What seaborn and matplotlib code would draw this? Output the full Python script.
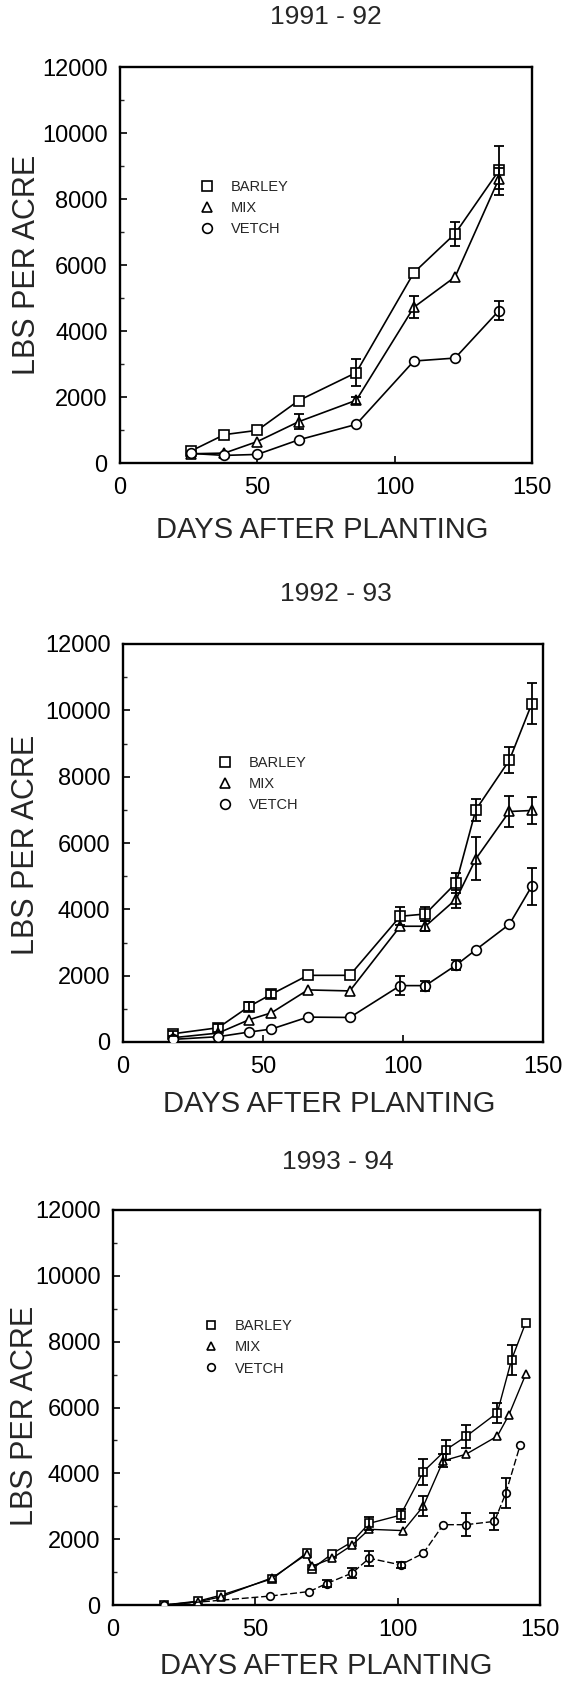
import numpy as np
import pandas as pd
import matplotlib
matplotlib.use("Agg")
import matplotlib.pyplot as plt
from matplotlib.lines import Line2D
from matplotlib.ticker import MultipleLocator
import seaborn as sns

# ---------------- data ----------------
crops = ["BARLEY", "MIX", "VETCH"]
titles = ["1991 - 92", "1992 - 93", "1993 - 94"]
x_ticks = [0, 50, 100, 150]
y_ticks = [0, 2000, 4000, 6000, 8000, 10000, 12000]
x_label = "DAYS AFTER PLANTING"
y_label = "LBS PER ACRE"

# 1991-92
days_91 = [26, 38, 50, 65, 86, 107, 122, 138]
lbs_91_barley = [370, 860, 990, 1890, 2740, 5770, 6950, 8870]
err_91_barley = [0, 0, 0, 0, 400, 0, 360, 750]
lbs_91_mix = [280, 300, 650, 1250, 1900, 4720, 5640, 8620]
err_91_mix = [0, 0, 0, 230, 100, 330, 0, 330]
lbs_91_vetch = [290, 230, 260, 700, 1170, 3090, 3180, 4620]
err_91_vetch = [0, 0, 0, 0, 0, 0, 0, 300]

# 1992-93
days_92 = [18, 34, 45, 53, 66, 81, 99, 108, 119, 126, 138, 146]
lbs_92_barley = [250, 430, 1070, 1440, 2010, 2010, 3790, 3860, 4800, 7000, 8500, 10200]
err_92_barley = [80, 120, 150, 120, 0, 0, 270, 200, 300, 330, 380, 620]
lbs_92_mix = [130, 270, 670, 880, 1570, 1540, 3490, 3490, 4310, 5520, 6950, 6980]
err_92_mix = [0, 0, 0, 0, 0, 0, 0, 150, 280, 650, 470, 400]
lbs_92_vetch = [80, 160, 300, 390, 750, 740, 1700, 1700, 2320, 2780, 3550, 4700]
err_92_vetch = [0, 0, 0, 0, 0, 0, 280, 150, 150, 0, 0, 560]

# 1993-94
days_93_barley = [18, 30, 38, 56, 68, 70, 77, 84, 90, 101, 109, 117, 124, 135, 140, 145]
lbs_93_barley = [0, 120, 300, 800, 1580, 1100, 1560, 1920, 2480, 2730, 4050, 4720, 5120, 5840, 7450, 8580]
err_93_barley = [0, 0, 0, 0, 0, 0, 0, 0, 200, 200, 400, 300, 350, 300, 450, 0]
days_93_mix = [18, 30, 38, 56, 68, 70, 77, 84, 90, 102, 109, 116, 124, 135, 139, 145]
lbs_93_mix = [0, 100, 250, 830, 1540, 1180, 1420, 1820, 2300, 2260, 3000, 4380, 4580, 5130, 5760, 7010]
err_93_mix = [0, 0, 0, 0, 0, 0, 0, 0, 0, 0, 300, 200, 0, 0, 0, 0]
days_93_vetch = [18, 55, 69, 75, 84, 90, 101, 109, 116, 124, 134, 138, 143]
lbs_93_vetch = [0, 270, 410, 650, 970, 1420, 1220, 1570, 2440, 2440, 2540, 3400, 4850]
err_93_vetch = [0, 0, 0, 100, 150, 220, 100, 0, 0, 350, 250, 450, 0]

panels = [
    {"BARLEY": (days_91, lbs_91_barley, err_91_barley),
     "MIX": (days_91, lbs_91_mix, err_91_mix),
     "VETCH": (days_91, lbs_91_vetch, err_91_vetch)},
    {"BARLEY": (days_92, lbs_92_barley, err_92_barley),
     "MIX": (days_92, lbs_92_mix, err_92_mix),
     "VETCH": (days_92, lbs_92_vetch, err_92_vetch)},
    {"BARLEY": (days_93_barley, lbs_93_barley, err_93_barley),
     "MIX": (days_93_mix, lbs_93_mix, err_93_mix),
     "VETCH": (days_93_vetch, lbs_93_vetch, err_93_vetch)},
]

# ---------------- style ----------------
sns.set_style("ticks")
plt.rcParams["font.family"] = ["Liberation Sans", "DejaVu Sans"]

W, H = 567, 1695
fig = plt.figure(figsize=(W / 100, H / 100), dpi=100)

# (left, top, right, bottom) in pixels
boxes = [(120, 67, 532, 463), (123, 644, 543, 1042), (113, 1210, 540, 1605)]
legend_anchor = [(0.194, 0.715), (0.226, 0.719), (0.213, 0.724)]
title_pos = [(0.5, 1.105), (0.507, 1.105), (0.527, 1.1)]
xlabel_pos = [(0.49, -0.17), (0.49, -0.155), (0.5, -0.155)]
ylabel_pos = [(-0.225, 0.5), (-0.23, 0.495), (-0.205, 0.48)]
marker_map = {"BARLEY": "s", "MIX": "^", "VETCH": "o"}
palette = {c: "black" for c in crops}

for i, data in enumerate(panels):
    l, t, r, b = boxes[i]
    ax = fig.add_axes([l / W, (H - b) / H, (r - l) / W, (b - t) / H])

    frames = []
    for c in crops:
        d, v, e = data[c]
        frames.append(pd.DataFrame({"day": d, "lbs": v, "err": e, "crop": c}))
    df = pd.concat(frames, ignore_index=True)

    ms = 7 if i < 2 else 5.5
    if i == 2:
        dashes = {"BARLEY": "", "MIX": "", "VETCH": (5, 2)}
    else:
        dashes = {c: "" for c in crops}
    sns.lineplot(data=df, x="day", y="lbs", hue="crop", style="crop",
                 palette=palette, markers=marker_map, dashes=dashes,
                 hue_order=crops, style_order=crops, legend=False,
                 markersize=ms, markerfacecolor="white",
                 markeredgecolor="black", markeredgewidth=1.2,
                 linewidth=1.2 if i < 2 else 1.0, ax=ax, zorder=3)

    eb = df[df["err"] > 0]
    ax.errorbar(eb["day"], eb["lbs"], yerr=eb["err"], fmt="none",
                ecolor="black", elinewidth=1.3, capsize=3.5, capthick=1.3,
                zorder=4)

    ax.set_xlim(0, 150)
    ax.set_ylim(0, 12000)
    ax.set_xticks(x_ticks)
    ax.set_yticks(y_ticks)
    ax.yaxis.set_minor_locator(MultipleLocator(1000))
    ax.tick_params(axis="both", which="major", direction="in", length=5,
                   width=1.2, labelsize=17, colors="black")
    ax.tick_params(axis="y", which="major", pad=9)
    ax.tick_params(axis="x", which="major", pad=10)
    ax.tick_params(axis="y", which="minor", direction="in", length=3, width=1.0)
    for sp in ax.spines.values():
        sp.set_visible(True)
        sp.set_linewidth(1.7)
        sp.set_color("black")

    ax.set_xlabel(x_label, fontsize=21, va="center")
    ax.xaxis.set_label_coords(*xlabel_pos[i])
    ax.set_ylabel(y_label, fontsize=22, va="center")
    ax.yaxis.set_label_coords(*ylabel_pos[i])
    ax.set_title(titles[i], fontsize=19, x=title_pos[i][0], y=title_pos[i][1],
                 va="center")

    handles = [Line2D([], [], ls="none", marker=marker_map[c], mfc="white",
                      mec="black", mew=1.2, ms=ms) for c in crops]
    ax.legend(handles, crops, loc="upper left", bbox_to_anchor=legend_anchor[i],
              frameon=False, fontsize=10.5, handlelength=1.0,
              handletextpad=1.1, labelspacing=0.5, borderpad=0,
              borderaxespad=0)

fig.savefig("out.png", dpi=100)
